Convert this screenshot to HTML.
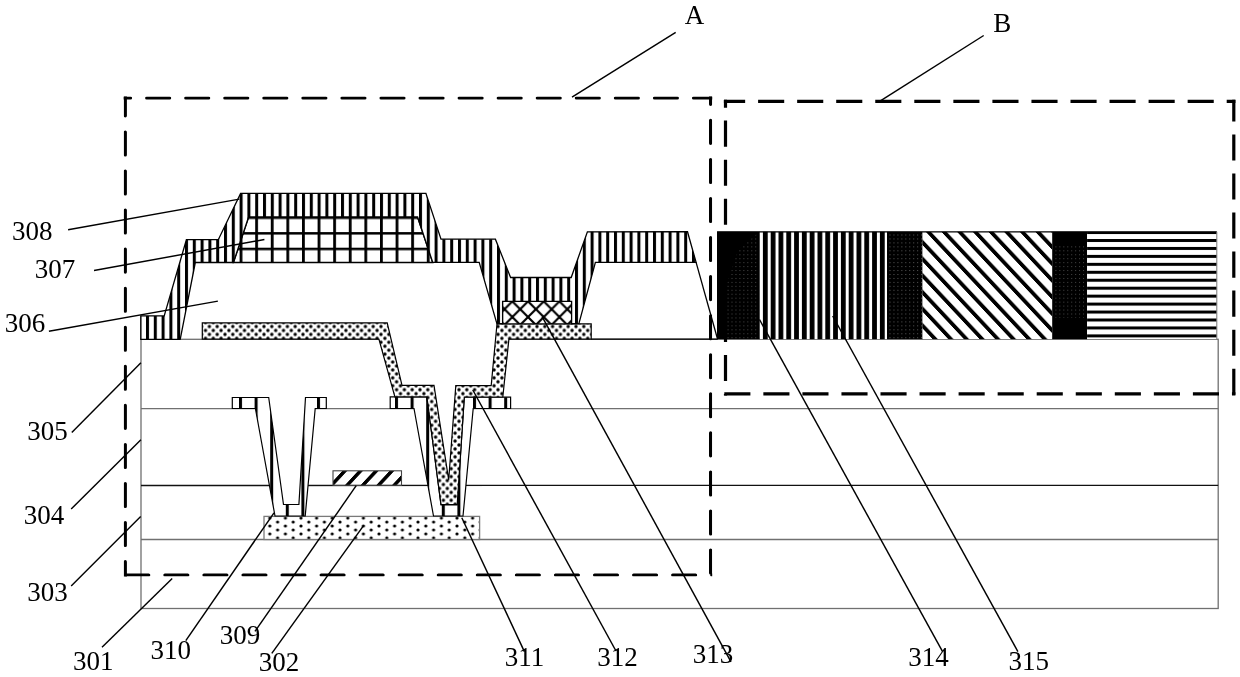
<!DOCTYPE html>
<html><head><meta charset="utf-8"><style>
html,body{margin:0;padding:0;background:#fff;}
body{width:1240px;height:677px;overflow:hidden;font-family:"Liberation Serif",serif;}
svg{display:block;}
</style></head><body>
<svg width="1240" height="677" viewBox="0 0 1240 677">
<defs>
<pattern id="v308" patternUnits="userSpaceOnUse" x="302.0" y="0" width="7.8" height="10">
  <rect width="7.8" height="10" fill="#fff"/><rect x="0" width="3" height="10" fill="#000"/></pattern>
<pattern id="vSD" patternUnits="userSpaceOnUse" x="239.0" y="0" width="15.6" height="10">
  <rect width="15.6" height="10" fill="#fff"/><rect x="0" width="3.0" height="10" fill="#000"/></pattern>
<pattern id="grid" patternUnits="userSpaceOnUse" x="302.0" y="232.1" width="15.6" height="15.6">
  <rect width="15.6" height="15.6" fill="#fff"/><rect x="0" width="2.8" height="15.6" fill="#000"/><rect y="0" width="15.6" height="2.5" fill="#000"/></pattern>
<pattern id="dotsD" patternUnits="userSpaceOnUse" x="225.0" y="326.5" width="7.8" height="7.9">
  <rect width="7.8" height="7.9" fill="#fff"/><circle cx="0" cy="0" r="1.7"/><circle cx="7.8" cy="0" r="1.7"/><circle cx="0" cy="7.9" r="1.7"/><circle cx="7.8" cy="7.9" r="1.7"/><circle cx="3.9" cy="3.95" r="1.7"/></pattern>
<pattern id="dotsS" patternUnits="userSpaceOnUse" x="301" y="518.1" width="15.6" height="7.9">
  <rect width="15.6" height="7.9" fill="#fff"/><circle cx="0" cy="0" r="1.6"/><circle cx="15.6" cy="0" r="1.6"/><circle cx="0" cy="7.9" r="1.6"/><circle cx="15.6" cy="7.9" r="1.6"/><circle cx="7.8" cy="3.95" r="1.6"/></pattern>
<pattern id="xh" patternUnits="userSpaceOnUse" x="504.5" y="309.2" width="15.7" height="15.7">
  <rect width="15.7" height="15.7" fill="#fff"/><path d="M-15.7,-15.7 L31.4,31.4 M0,-15.7 L31.4,15.7 M-15.7,0 L15.7,31.4" stroke="#000" stroke-width="2.2"/><path d="M-15.7,15.7 L15.7,-15.7 M-15.7,31.4 L31.4,-15.7 M0,31.4 L31.4,0" stroke="#000" stroke-width="2.2"/></pattern>
<pattern id="gate" patternUnits="userSpaceOnUse" x="0" y="0" width="15.7" height="20" patternTransform="translate(345.0,485) skewX(-42.9)">
  <rect x="-1" y="-1" width="17.7" height="22" fill="#fff"/><rect x="0" y="-1" width="4.8" height="22" fill="#000"/></pattern>
<pattern id="dv" patternUnits="userSpaceOnUse" x="762.9" y="0" width="7.8" height="10">
  <rect width="7.8" height="10" fill="#fff"/><rect x="0" width="4.8" height="10" fill="#000"/></pattern>
<pattern id="hs" patternUnits="userSpaceOnUse" x="0" y="239" width="10" height="7.95">
  <rect width="10" height="7.95" fill="#fff"/><rect y="0" width="10" height="3" fill="#000"/></pattern>
<pattern id="blk" patternUnits="userSpaceOnUse" x="889.5" y="234.5" width="3.95" height="3.95">
  <rect x="-1" y="-1" width="6" height="6" fill="#000"/><rect x="0" y="0" width="1" height="1" fill="#5a5a5a"/></pattern>
<pattern id="wd" patternUnits="userSpaceOnUse" x="0" y="0" width="15.65" height="20" patternTransform="translate(926.4,232.5) skewX(43.2)">
  <rect x="-1" y="-1" width="17.65" height="22" fill="#fff"/><rect x="0" y="-1" width="5.2" height="22" fill="#000"/></pattern>
</defs>
<rect width="1240" height="677" fill="#fff"/>
<g fill="none" stroke="#707070" stroke-width="1.3">
<rect x="141" y="339.3" width="1077.2" height="269.2"/>
<line x1="141" y1="408.6" x2="1218.2" y2="408.6"/>
<line x1="141" y1="539.5" x2="1218.2" y2="539.5"/>
</g>
<line x1="141" y1="485.5" x2="1218.2" y2="485.3" stroke="#111" stroke-width="1.3"/>
<rect x="264" y="516.4" width="215.6" height="23.1" fill="url(#dotsS)" stroke="#7a7a7a" stroke-width="1.3"/>
<rect x="333" y="470.8" width="68.5" height="14.4" fill="url(#gate)" stroke="#444" stroke-width="1.1"/>
<polygon points="255.4,408.0 315.2,408.0 305.2,515.8 275.0,515.8" fill="#fff"/>
<polygon points="414.0,408.0 473.2,408.0 463.0,515.8 433.5,515.8" fill="#fff"/>
<polygon points="232.3,397.5 268.7,397.5 283.5,504.5 298.9,504.5 305.5,397.5 326.3,397.5 326.3,408.5 315.2,408.5 305.2,516.0 275.0,516.0 255.4,408.5 232.3,408.5" fill="url(#vSD)" stroke="#000" stroke-width="1.2" stroke-linejoin="miter"/>
<polygon points="390.2,396.8 426.9,396.8 441.0,505.0 457.2,505.0 464.3,397.2 510.6,397.2 510.6,408.5 473.2,408.5 463.0,516.0 433.5,516.0 414.0,408.5 390.2,408.5" fill="url(#vSD)" stroke="#000" stroke-width="1.2"/>
<polygon points="378.9,338.0 508.9,338.0 502.8,397.0 394.9,397.0" fill="#fff"/>
<polygon points="202.3,322.9 387.2,322.9 402.0,385.4 434.0,385.4 448.7,479.8 455.8,385.6 491.2,385.6 497.0,323.8 591.2,323.8 591.2,339.2 508.9,339.2 502.8,397.0 464.3,397.0 457.2,504.5 441.0,504.5 426.9,396.8 394.9,396.8 378.9,339.2 202.3,339.2" fill="url(#dotsD)" stroke="#000" stroke-width="1.2"/>
<rect x="502.6" y="301.3" width="69" height="22.5" fill="url(#xh)" stroke="#000" stroke-width="1"/>
<polygon points="233.4,262.5 248.6,217.0 417.6,217.0 432.7,262.4" fill="url(#grid)" stroke="#000" stroke-width="1.5"/>
<polygon points="140.8,339.3 140.8,315.9 164.2,315.9 186.4,239.7 218.3,239.7 240.6,193.4 425.9,193.4 441.0,239.2 495.4,239.2 510.6,277.5 571.2,277.5 587.4,231.8 687.5,231.7 696.1,262.4 595.4,262.4 578.9,323.7 571.6,323.7 571.6,301.3 502.6,301.3 502.6,323.7 496.9,323.7 479.2,262.3 432.7,262.3 417.6,217.0 248.6,217.0 233.4,262.5 195.3,262.5 180.2,339.3" fill="url(#v308)" stroke="#000" stroke-width="1.3" stroke-linejoin="miter"/>
<line x1="591.2" y1="339.2" x2="717.6" y2="339.2" stroke="#000" stroke-width="1.3"/>
<line x1="696.1" y1="262.4" x2="717.6" y2="339.3" stroke="#000" stroke-width="1.3"/>
<rect x="717.6" y="231.8" width="41.8" height="107.3" fill="#000"/>
<polygon points="738,250 759,232 759,339 725,339 725,290" fill="url(#blk)" opacity="0.8"/>
<rect x="759.4" y="231.8" width="127.6" height="107.3" fill="url(#dv)"/>
<rect x="887.0" y="231.8" width="35.6" height="107.3" fill="url(#blk)"/>
<rect x="922.6" y="231.8" width="129.6" height="107.3" fill="url(#wd)"/>
<rect x="1052.2" y="231.8" width="34.9" height="107.3" fill="#000"/>
<rect x="1055" y="246" width="32" height="72" fill="url(#blk)" opacity="0.8"/>
<rect x="1087.1" y="231.8" width="129.6" height="107.3" fill="url(#hs)"/>
<path d="M717.6,339.1 V231.8 H1216.8" fill="none" stroke="#000" stroke-width="1.2"/>
<path d="M1216.8,231.8 V339.1" fill="none" stroke="#777" stroke-width="1"/>
<clipPath id="clipA"><rect x="123.7" y="96.4" width="588.5000000000001" height="480.2"/></clipPath>
<g clip-path="url(#clipA)">
<line x1="123.7" y1="98.0" x2="712.2" y2="98.0" stroke="#000" stroke-width="3.2" stroke-dasharray="22.90 16.16" stroke-dashoffset="16.06" stroke-linecap="round"/>
<line x1="125.3" y1="96.4" x2="125.3" y2="576.6" stroke="#000" stroke-width="3.2" stroke-dasharray="22.90 16.16" stroke-dashoffset="3.46" stroke-linecap="round"/>
<line x1="123.7" y1="575.0" x2="712.2" y2="575.0" stroke="#000" stroke-width="3.2" stroke-dasharray="22.90 16.16" stroke-dashoffset="36.92" stroke-linecap="round"/>
<line x1="710.6" y1="96.4" x2="710.6" y2="576.6" stroke="#000" stroke-width="3.2" stroke-dasharray="22.90 16.16" stroke-dashoffset="15.02" stroke-linecap="round"/>
</g>
<line x1="723.9" y1="101.3" x2="1235.3999999999999" y2="101.3" stroke="#000" stroke-width="3.2" stroke-dasharray="26.1 12.95" stroke-dashoffset="4.85" stroke-linecap="butt"/>
<line x1="725.5" y1="99.7" x2="725.5" y2="395.5" stroke="#000" stroke-width="3.2" stroke-dasharray="26.1 12.95" stroke-dashoffset="18.15" stroke-linecap="butt"/>
<line x1="723.9" y1="393.9" x2="1235.3999999999999" y2="393.9" stroke="#000" stroke-width="3.2" stroke-dasharray="26.1 12.95" stroke-dashoffset="38.65" stroke-linecap="butt"/>
<line x1="1233.8" y1="99.7" x2="1233.8" y2="395.5" stroke="#000" stroke-width="3.2" stroke-dasharray="26.1 12.95" stroke-dashoffset="4.35" stroke-linecap="butt"/>
<g stroke="#000" stroke-width="1.45" fill="none">
<line x1="675.7" y1="32.3" x2="572.0" y2="97.2"/>
<line x1="983.7" y1="35.5" x2="880.4" y2="100.8"/>
<line x1="68.1" y1="229.8" x2="239.3" y2="199.1"/>
<line x1="94.0" y1="270.5" x2="264.4" y2="239.5"/>
<line x1="48.9" y1="331.3" x2="217.9" y2="301.1"/>
<line x1="71.8" y1="432.4" x2="140.9" y2="362.8"/>
<line x1="71.2" y1="509.0" x2="140.9" y2="439.8"/>
<line x1="71.2" y1="585.9" x2="140.7" y2="516.6"/>
<line x1="102.0" y1="647.3" x2="172.2" y2="578.5"/>
<line x1="185.8" y1="640.7" x2="274.0" y2="512.8"/>
<line x1="255.0" y1="631.3" x2="356.2" y2="485.7"/>
<line x1="271.8" y1="653.3" x2="363.9" y2="525.2"/>
<line x1="524.4" y1="651.6" x2="461.8" y2="517.8"/>
<line x1="616.0" y1="651.0" x2="472.8" y2="390.0"/>
<line x1="731.0" y1="661.8" x2="542.1" y2="316.6"/>
<line x1="942.6" y1="651.6" x2="759.5" y2="319.5"/>
<line x1="1017.9" y1="651.6" x2="832.7" y2="316.0"/>
</g>
<g font-family="Liberation Serif" font-size="27" fill="#000" style="will-change:transform">
<text x="684.75" y="24.25">A</text>
<text x="993.25" y="31.65">B</text>
<text x="12.05" y="239.65">308</text>
<text x="34.70" y="278.25">307</text>
<text x="4.75" y="331.60">306</text>
<text x="27.20" y="439.90">305</text>
<text x="23.80" y="524.30">304</text>
<text x="27.20" y="601.25">303</text>
<text x="73.00" y="670.40">301</text>
<text x="150.40" y="658.50">310</text>
<text x="219.75" y="643.80">309</text>
<text x="258.65" y="670.55">302</text>
<text x="504.75" y="665.95">311</text>
<text x="597.30" y="665.95">312</text>
<text x="692.80" y="662.65">313</text>
<text x="908.25" y="666.25">314</text>
<text x="1008.40" y="670.00">315</text>
</g>
</svg>
</body></html>
